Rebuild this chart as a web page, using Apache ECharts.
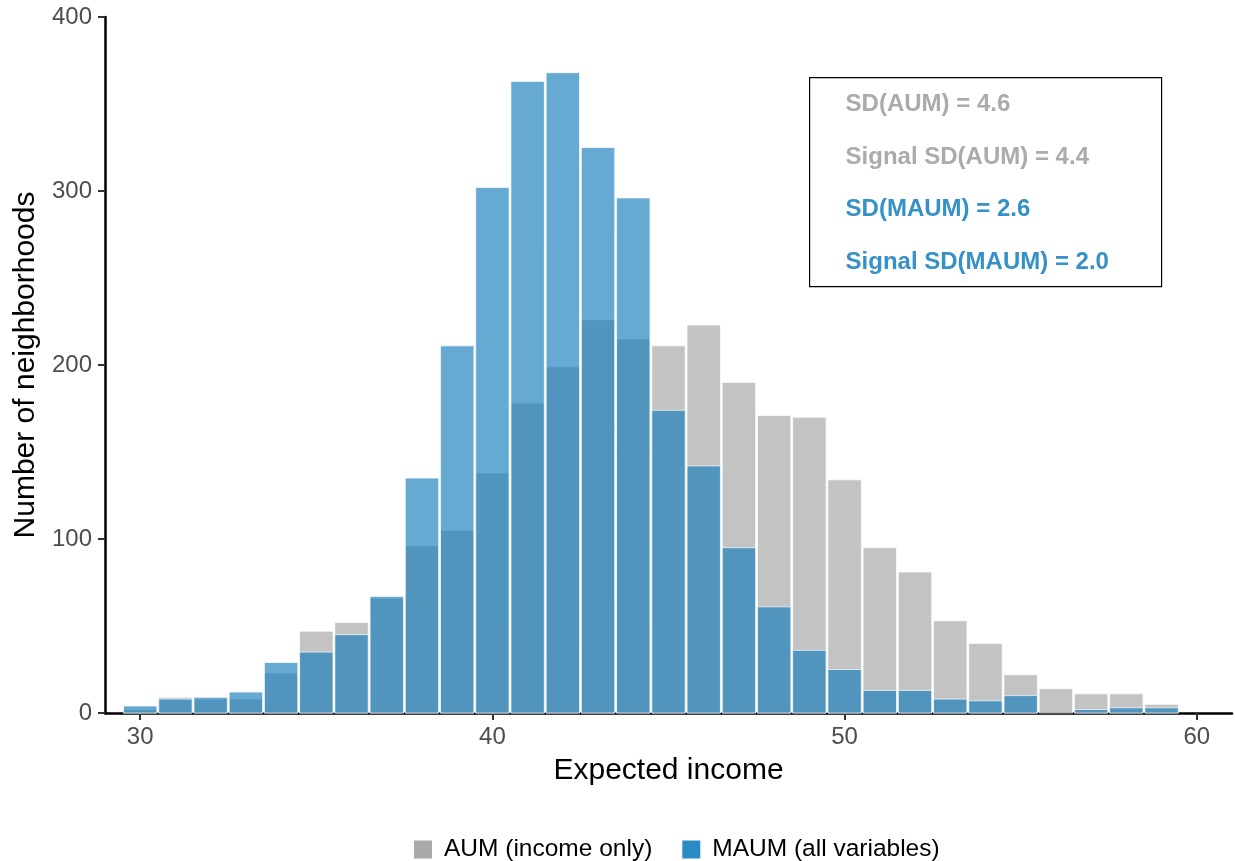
<!DOCTYPE html>
<html>
<head>
<meta charset="utf-8">
<script src="https://cdn.jsdelivr.net/npm/echarts@6/dist/echarts.min.js"></script>
<style>
  html, body { margin: 0; padding: 0; background: #fff; }
  #chart { width: 1235px; height: 861px; }
</style>
</head>
<body>
<div id="chart"></div>
<script>
// Histogram bins (bin centres, width 1) of expected income per neighborhood
const binCenters = [30, 31, 32, 33, 34, 35, 36, 37, 38, 39, 40, 41, 42, 43, 44,
                    45, 46, 47, 48, 49, 50, 51, 52, 53, 54, 55, 56, 57, 58, 59];
// AUM (income only)
const aumCounts = [2, 9, 8, 8, 23, 47, 52, 66, 96, 105, 138, 178, 199, 226, 215,
                   211, 223, 190, 171, 170, 134, 95, 81, 53, 40, 22, 14, 11, 11, 5];
// MAUM (all variables)
const maumCounts = [4, 8, 9, 12, 29, 35, 45, 67, 135, 211, 302, 363, 368, 325, 296,
                    174, 142, 95, 61, 36, 25, 13, 13, 8, 7, 10, 0, 2, 3, 3];

const xTicks = [30, 40, 50, 60];
const seriesNames = ['AUM (income only)', 'MAUM (all variables)'];
const statLines = [
  { text: 'SD(AUM) = 4.6', group: 0 },
  { text: 'Signal SD(AUM) = 4.4', group: 0 },
  { text: 'SD(MAUM) = 2.6', group: 1 },
  { text: 'Signal SD(MAUM) = 2.0', group: 1 }
];

const FONT = '"Liberation Sans", Arial, Helvetica, sans-serif';
const fillColors = ['rgba(169,169,169,0.7)', 'rgba(20,123,186,0.65)'];
const keyColors = ['#A9A9A9', '#2B8CC4'];
const statColors = ['#ABABAB', '#3591C7'];
const BIN_WIDTH = 1;
const BAR_INSET = 0.9; // px trimmed from each side of a bin so neighbours stay apart

function binRenderer(fill) {
  return function (params, api) {
    const x = api.value(0);
    const y = api.value(1);
    if (!y) return null;
    const p0 = api.coord([x - BIN_WIDTH / 2, 0]);
    const p1 = api.coord([x + BIN_WIDTH / 2, y]);
    return {
      type: 'rect',
      shape: {
        x: p0[0] + BAR_INSET,
        y: p1[1],
        width: p1[0] - p0[0] - 2 * BAR_INSET,
        height: p0[1] - p1[1]
      },
      style: { fill: fill, stroke: 'rgba(255,255,255,0.7)', lineWidth: 1 }
    };
  };
}

const chart = echarts.init(document.getElementById('chart'), null, { renderer: 'canvas' });

const option = {
  backgroundColor: '#ffffff',
  animation: false,
  textStyle: { fontFamily: FONT },
  grid: { left: 105, right: 3, top: 17, bottom: 148, containLabel: false },
  xAxis: {
    type: 'value',
    min: 29,
    max: 61,
    name: 'Expected income',
    nameLocation: 'middle',
    nameGap: 43,
    nameTextStyle: { color: '#000', fontSize: 30, fontFamily: FONT },
    axisLine: { show: true, lineStyle: { color: '#000', width: 2.5 } },
    axisTick: { show: true, length: 7, customValues: xTicks, lineStyle: { color: '#333', width: 2 } },
    axisLabel: { customValues: xTicks, color: '#4D4D4D', fontSize: 24, margin: 12, fontFamily: FONT },
    splitLine: { show: false }
  },
  yAxis: {
    type: 'value',
    min: 0,
    max: 400,
    interval: 100,
    name: 'Number of neighborhoods',
    nameLocation: 'middle',
    nameRotate: 90,
    nameGap: 61,
    nameTextStyle: { color: '#000', fontSize: 30, fontFamily: FONT },
    axisLine: { show: true, lineStyle: { color: '#000', width: 2.5 } },
    axisTick: { show: true, length: 7, lineStyle: { color: '#333', width: 2 } },
    axisLabel: { color: '#4D4D4D', fontSize: 24, margin: 13, fontFamily: FONT },
    splitLine: { show: false }
  },
  legend: {
    left: 409,
    top: 832,
    itemWidth: 18,
    itemHeight: 18,
    itemGap: 30,
    icon: 'rect',
    textStyle: { fontSize: 24.5, color: '#000', fontFamily: FONT, padding: [0, 0, 0, 7] },
    data: [
      { name: seriesNames[0], itemStyle: { color: keyColors[0] } },
      { name: seriesNames[1], itemStyle: { color: keyColors[1] } }
    ]
  },
  series: [
    {
      name: seriesNames[0],
      type: 'custom',
      renderItem: binRenderer(fillColors[0]),
      itemStyle: { color: keyColors[0] },
      encode: { x: 0, y: 1 },
      data: binCenters.map((c, i) => [c, aumCounts[i]]),
      z: 2
    },
    {
      name: seriesNames[1],
      type: 'custom',
      renderItem: binRenderer(fillColors[1]),
      itemStyle: { color: keyColors[1] },
      encode: { x: 0, y: 1 },
      data: binCenters.map((c, i) => [c, maumCounts[i]]),
      z: 3
    }
  ],
  graphic: [
    {
      type: 'group',
      left: 809,
      top: 77,
      children: [
        {
          type: 'rect',
          shape: { x: 0, y: 0, width: 352, height: 209 },
          style: { fill: '#fff', stroke: '#000', lineWidth: 1.2 }
        }
      ].concat(statLines.map((s, i) => ({
        type: 'text',
        x: 36,
        y: 27 + i * 52.5,
        style: {
          text: s.text,
          fill: statColors[s.group],
          font: 'bold 24px ' + FONT,
          verticalAlign: 'middle',
          align: 'left'
        }
      })))
    }
  ]
};

chart.setOption(option);
</script>
</body>
</html>
